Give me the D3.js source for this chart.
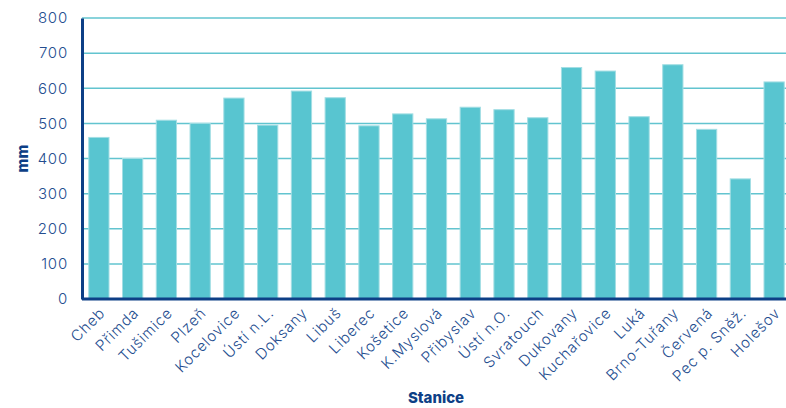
<!DOCTYPE html>
<html>
<head>
<meta charset="utf-8">
<script src="https://cdn.jsdelivr.net/npm/d3@7"></script>
<style>
  html, body { margin: 0; padding: 0; background: #fff; }
  svg text { font-family: Inter, "DejaVu Sans", sans-serif; }
</style>
</head>
<body>
<svg id="chart" width="786" height="408"></svg>
<script>
// Stations and annual precipitation (mm)
const stations = ["Cheb", "Přimda", "Tušimice", "Plzeň", "Kocelovice", "Ústí n.L.", "Doksany", "Libuš",
  "Liberec", "Košetice", "K.Myslová", "Přibyslav", "Ústí n.O.", "Svratouch", "Dukovany", "Kuchařovice",
  "Luká", "Brno-Tuřany", "Červená", "Pec p. Sněž.", "Holešov"];
const precipitation = [460, 400, 509, 500, 572, 495, 592, 573, 493, 527, 513, 546, 539, 516, 659, 649,
  519, 667, 483, 342, 618];
const yTicks = [0, 100, 200, 300, 400, 500, 600, 700, 800];
const yTitle = "mm";
const xTitle = "Stanice";

const svg = d3.select("#chart");
const margin = { left: 82, top: 18, bottom: 109 };
const W = 786, H = 408;

const x = d3.scaleBand().domain(stations).range([margin.left, 791]).paddingInner(0.4).paddingOuter(0.2);
const y = d3.scaleLinear().domain([0, 800]).range([H - margin.bottom, margin.top]);

const textColor = "#244d8f";
const axisColor = "#0d3f86";
const teal = "#58c5d0";

// grid lines
svg.append("g").selectAll("line").data(yTicks.filter(d => d > 0)).join("line")
  .attr("x1", margin.left).attr("x2", W)
  .attr("y1", d => y(d)).attr("y2", d => y(d))
  .attr("stroke", "#62c4cf").attr("stroke-width", 1.5);

// bars
svg.append("g").selectAll("rect").data(precipitation).join("rect")
  .attr("x", (d, i) => x(stations[i]))
  .attr("y", d => y(d))
  .attr("width", x.bandwidth())
  .attr("height", d => y(0) - y(d))
  .attr("fill", teal)
  .attr("stroke", "#a3dee4").attr("stroke-width", 1);

// y axis
const yAxis = svg.append("g").attr("transform", `translate(${margin.left},0)`)
  .call(d3.axisLeft(y).tickValues(yTicks).tickSize(0).tickPadding(14));
yAxis.select(".domain").attr("stroke", axisColor).attr("stroke-width", 3);
yAxis.selectAll("text").attr("fill", textColor).style("font-size", "15px").style("font-weight", 350)
  .style("letter-spacing", "0.8px");

// x axis
const xAxis = svg.append("g").attr("transform", `translate(0,${y(0)})`)
  .call(d3.axisBottom(x).tickSize(0).tickPadding(0));
xAxis.select(".domain").attr("stroke", axisColor).attr("stroke-width", 3)
  .attr("d", `M${margin.left},0H${W}`);
xAxis.selectAll("text")
  .attr("fill", textColor).style("font-size", "15px").style("font-weight", 350)
  .style("letter-spacing", "0.8px")
  .attr("text-anchor", "end")
  .attr("dy", "0")
  .attr("transform", "translate(7,15) rotate(-45)");

// axis titles
svg.append("text").attr("transform", `translate(28,${(y(0) + y(800)) / 2}) rotate(-90)`)
  .attr("text-anchor", "middle").attr("fill", axisColor)
  .style("font-size", "15px").style("font-weight", 800).text(yTitle);
svg.append("text").attr("x", 436).attr("y", 403)
  .attr("text-anchor", "middle").attr("fill", axisColor)
  .style("font-size", "15px").style("font-weight", 800).text(xTitle);
</script>
</body>
</html>
